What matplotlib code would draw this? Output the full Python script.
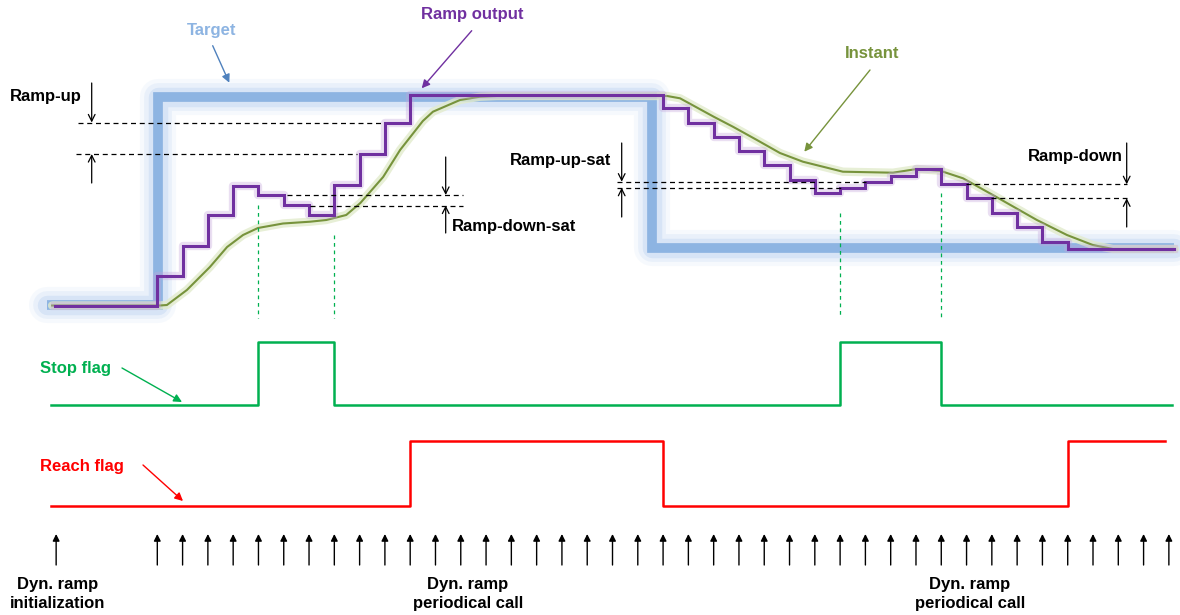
import matplotlib
matplotlib.use('Agg')
import matplotlib.pyplot as plt

plt.rcParams['font.family'] = ['Liberation Sans', 'DejaVu Sans']

# time axis is in "call index": 0 = first periodical call, init call sits at -4
init_call = -4
calls = list(range(0, 41))

# target setpoint (step, post)
target_t = [-4.35, 0.03, 19.55, 40.2]
target_y = [305, 97, 247.5, 247.5]

# ramp output level held after each call
ramp_t = [-4.05, 0, 1, 2, 3, 4, 5, 6, 7, 8, 9, 10,
          20, 21, 22, 23, 24, 25, 26, 27, 28, 29, 30,
          31, 32, 33, 34, 35, 36, 40.2]
ramp_y = [305.5, 276, 245.5, 215, 186, 195, 205, 215, 184.5, 154, 122.5, 95,
          108.3, 122.7, 137.3, 150.7, 165, 180, 193.3, 187.7, 181.7, 175.7, 169,
          184.3, 198.3, 212.7, 226.7, 241.7, 249.3, 249.3]

# instant (filtered) value
inst_t = [-4.16, 0.1, 0.38, 1.17, 2.08, 2.76, 3.39, 3.98, 4.97, 6.04, 6.68, 7.47,
          8.03, 8.93, 9.6, 10.5, 10.9, 11.97, 12.76, 13.43, 20.16, 20.67, 22.0,
          22.76, 23.71, 24.62, 25.53, 27.11, 29.09, 30.04, 30.95, 31.86, 33.04,
          34.78, 35.97, 36.99, 37.79, 40.24]
inst_y = [305.5, 305.5, 305, 290, 267, 247, 235, 228, 223.5, 221.7, 220, 215,
          203, 177, 150, 121, 111.7, 100, 96.7, 96, 96, 98.3, 116.7,
          126.7, 140, 153, 161.7, 171.7, 172.7, 169, 170.7, 178.3, 195,
          220, 235, 245, 249, 249]

# flags (0/1)
stop_t = [-4.2, 4, 7, 27, 31, 40.12]
stop_v = [0, 1, 0, 1, 0, 0]
reach_t = [-4.2, 10, 20, 36, 39.85]
reach_v = [0, 1, 0, 1, 1]

fig = plt.figure(figsize=(11.8, 6.15), dpi=100)
ax = fig.add_axes([0, 0, 1, 1])
ax.set_xlim(-6.22, 40.44)
ax.set_ylim(615, 0)
ax.axis('off')
ov = fig.add_axes([0, 0, 1, 1])
ov.set_xlim(0, 1180)
ov.set_ylim(615, 0)
ov.axis('off')
ov.patch.set_alpha(0)

# target with glow
for lw, a in [(26, 0.10), (20, 0.16), (14, 0.28)]:
    ax.step(target_t, target_y, where='post', color='#a9c7ec', lw=lw, alpha=a,
            solid_joinstyle='round', solid_capstyle='round')
ax.step(target_t, target_y, where='post', color='#8db4e2', lw=7,
        solid_joinstyle='miter', solid_capstyle='butt')

# instant with glow
ax.plot(inst_t, inst_y, color='#e2ebcc', lw=6, alpha=0.8, solid_capstyle='round')
ax.plot(inst_t, inst_y, color='#77933c', lw=1.5)

# ramp output with glow
ax.step(ramp_t, ramp_y, where='post', color='#c3a5dc', lw=6, alpha=0.35)
ax.step(ramp_t, ramp_y, where='post', color='#7030a0', lw=2.2, solid_joinstyle='miter')

# flags
ax.step(stop_t, [405 - 63 * v for v in stop_v], where='post', color='#00b050', lw=1.8)
ax.step(reach_t, [506 - 65 * v for v in reach_v], where='post', color='#ff0000', lw=1.8)

# green dashed markers at stop flag edges
for t, top in [(4, 205), (7, 235), (27, 213), (31, 193)]:
    ax.vlines(t, top, 318, color='#00b050', lw=0.9, linestyles=(0, (3, 3)))

# call arrows
for t in [init_call] + calls:
    ax.annotate('', xy=(t, 534), xytext=(t, 565),
                arrowprops=dict(arrowstyle='-|>', color='black', lw=1.0,
                                mutation_scale=10, shrinkA=0, shrinkB=0))

# dashed measurement lines
dash = dict(color='black', lw=0.9, linestyles=(0, (4, 3)))
ov.hlines(122.5, 78, 383, **dash)
ov.hlines(154, 76, 357, **dash)
ov.hlines(195, 287, 463, **dash)
ov.hlines(205.5, 310, 463, **dash)
ov.hlines(181.7, 617, 866, **dash)
ov.hlines(187.7, 617, 842, **dash)
ov.hlines(184.3, 966, 1127, **dash)
ov.hlines(198.3, 991, 1127, **dash)

def meas(x, y0, y1):
    ov.annotate('', xy=(x, y1), xytext=(x, y0),
                arrowprops=dict(arrowstyle='->', color='black', lw=0.9,
                                mutation_scale=12, shrinkA=0, shrinkB=0))

meas(91.7, 83, 122.5)
meas(91.7, 183, 154)
meas(445.7, 157, 195)
meas(445.7, 233, 205.5)
meas(621.7, 143, 181.7)
meas(621.7, 217, 187.7)
meas(1126.7, 143, 184.3)
meas(1126.7, 227, 198.3)

def label(x0, y0, x1, y1, color):
    ov.annotate('', xy=(x1, y1), xytext=(x0, y0),
                arrowprops=dict(arrowstyle='-|>', color=color, lw=1.0,
                                mutation_scale=12, shrinkA=0, shrinkB=0))

label(212.7, 45.7, 229.3, 82.7, '#4f81bd')
label(471.7, 30.7, 421.7, 88.3, '#7030a0')
label(870, 70, 804.3, 151.7, '#77933c')
label(122, 368, 182, 402, '#00b050')
label(143, 465, 183, 501, '#ff0000')

tk = dict(fontsize=12, fontweight='bold', ha='center', va='center')
ov.text(212, 30, 'Target', color='#8db4e2', **tk)
ov.text(472, 15, 'Ramp output', color='#7030a0', **tk)
ov.text(872, 53, 'Instant', color='#77933c', **tk)
ov.text(46, 97, 'Ramp-up', color='black', **tk)
ov.text(561, 160, 'Ramp-up-sat', color='black', **tk)
ov.text(514, 226, 'Ramp-down-sat', color='black', **tk)
ov.text(1075, 156, 'Ramp-down', color='black', **tk)
ov.text(75, 368, 'Stop flag', color='#00b050', **tk)
ov.text(82, 466, 'Reach flag', color='#ff0000', **tk)
ov.text(58, 594, 'Dyn. ramp\ninitialization', color='black', linespacing=1.4, **tk)
ov.text(468, 594, 'Dyn. ramp\nperiodical call', color='black', linespacing=1.4, **tk)
ov.text(970, 594, 'Dyn. ramp\nperiodical call', color='black', linespacing=1.4, **tk)

fig.savefig('out.png', dpi=100)
